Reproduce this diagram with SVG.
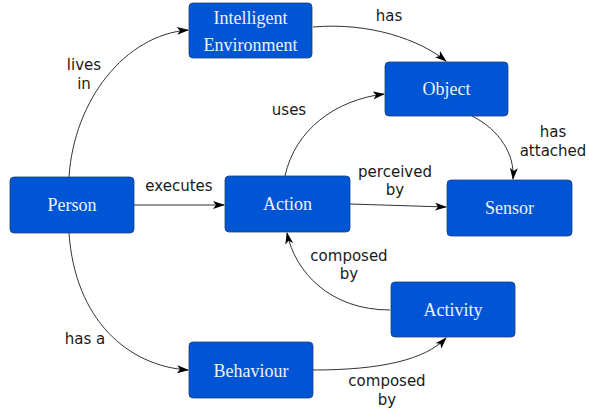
<svg xmlns="http://www.w3.org/2000/svg" width="589" height="412" viewBox="0 0 589 412">
  <defs>
    <marker id="arrow" viewBox="0 0 12 8" refX="11" refY="4" markerWidth="12" markerHeight="8" markerUnits="userSpaceOnUse" orient="auto">
      <path d="M0,0 L12,4 L0,8 L3,4 Z" fill="#000"/>
    </marker>
    <style>
      .node rect { fill: #0055d4; stroke: #1c3f78; stroke-width: 0.8; }
      .node text { fill: #eef2fa; font-family: 'Liberation Serif', serif; font-size: 18px; text-anchor: middle; }
      .edge { fill: none; stroke: #333; stroke-width: 1; marker-end: url(#arrow); }
      .label { fill: #1a1a1a; font-family: 'DejaVu Sans', sans-serif; font-size: 15px; text-anchor: middle; }
    </style>
  </defs>

  <g id="connectors">
    <path class="edge" d="M69,177 C74,100 125,35 188,30"/>
    <path class="edge" d="M313,27 C370,22 420,40 446,61"/>
    <path class="edge" d="M285,176 C295,130 335,100 384,94"/>
    <path class="edge" d="M472,116 C500,130 515,155 513,179"/>
    <path class="edge" d="M134,205 L224,205"/>
    <path class="edge" d="M350,204 L446,207"/>
    <path class="edge" d="M390,310 C330,310 295,272 287,233"/>
    <path class="edge" d="M69,233 C75,320 128,366 188,370"/>
    <path class="edge" d="M313,370 C380,370 425,360 446,338"/>
  </g>

  <g id="labels">
    <text class="label" x="84" y="70">lives</text>
    <text class="label" x="84" y="89">in</text>
    <text class="label" x="389" y="21">has</text>
    <text class="label" x="289" y="115">uses</text>
    <text class="label" x="553" y="137">has</text>
    <text class="label" x="553" y="156">attached</text>
    <text class="label" x="179" y="191">executes</text>
    <text class="label" x="395" y="177">perceived</text>
    <text class="label" x="395" y="195">by</text>
    <text class="label" x="349" y="261">composed</text>
    <text class="label" x="349" y="279">by</text>
    <text class="label" x="85" y="344">has a</text>
    <text class="label" x="387" y="386">composed</text>
    <text class="label" x="387" y="405">by</text>
  </g>

  <g id="intelligent-environment" class="node">
    <rect x="189" y="3" width="123" height="55" rx="4"/>
    <text x="250.5" y="24">Intelligent</text>
    <text x="250.5" y="51">Environment</text>
  </g>
  <g id="object" class="node">
    <rect x="385" y="62" width="123" height="54" rx="4"/>
    <text x="446.5" y="95">Object</text>
  </g>
  <g id="person" class="node">
    <rect x="10" y="177" width="124" height="56" rx="4"/>
    <text x="72" y="211">Person</text>
  </g>
  <g id="action" class="node">
    <rect x="225" y="176" width="125" height="56" rx="4"/>
    <text x="287.5" y="210">Action</text>
  </g>
  <g id="sensor" class="node">
    <rect x="447" y="180" width="125" height="56" rx="4"/>
    <text x="509.5" y="214">Sensor</text>
  </g>
  <g id="activity" class="node">
    <rect x="391" y="282" width="124" height="55" rx="4"/>
    <text x="453" y="316">Activity</text>
  </g>
  <g id="behaviour" class="node">
    <rect x="189" y="342" width="124" height="56" rx="4"/>
    <text x="251" y="377">Behaviour</text>
  </g>
</svg>
